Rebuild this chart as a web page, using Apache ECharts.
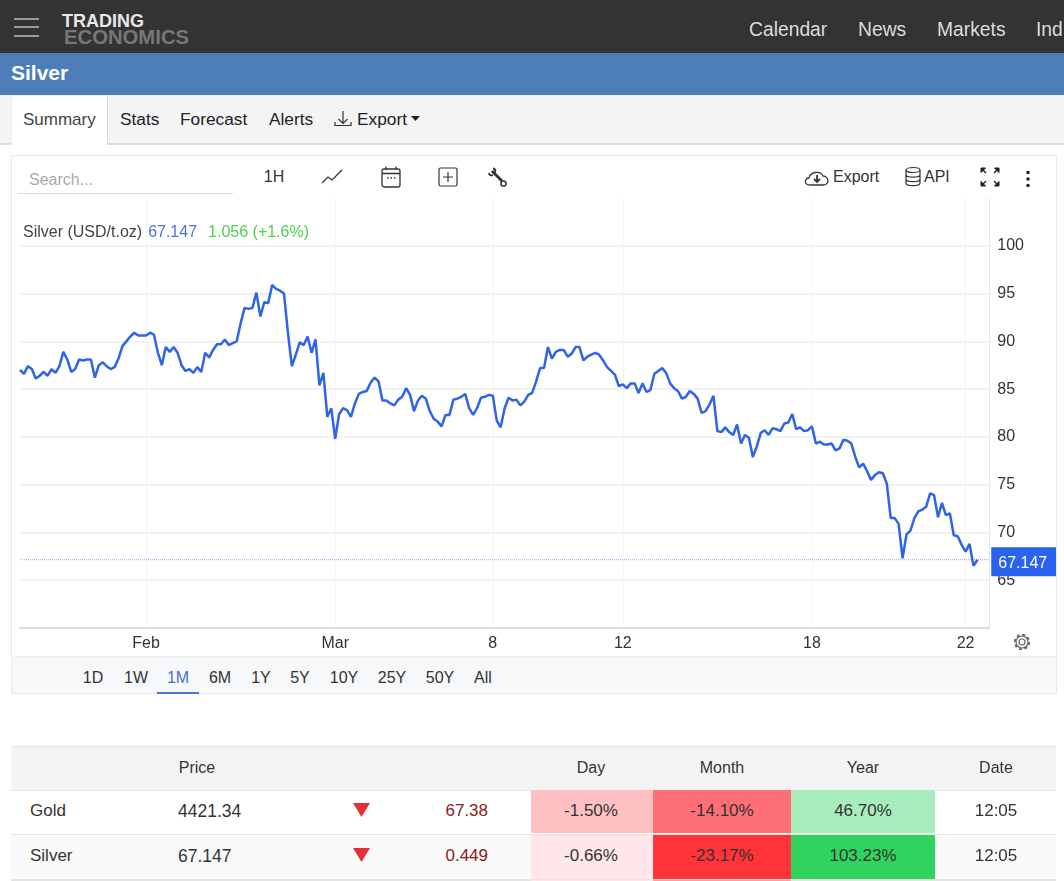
<!DOCTYPE html>
<html lang="en">
<head>
  <meta charset="UTF-8">
  <title>Silver</title>
  <script src="https://cdn.jsdelivr.net/npm/echarts@6/dist/echarts.min.js"></script>
  <style>
    html, body { margin: 0; padding: 0; width: 1064px; height: 881px; overflow: hidden; background: #fff; }
    body { font-family: "Liberation Sans", Arial, sans-serif; color: #333; position: relative; }
    .box { position: absolute; }
    .t { position: absolute; font-size: 16px; line-height: 20px; white-space: nowrap; }
    .c { transform: translateX(-50%); }
    .r { transform: translateX(-100%); }
    svg { position: absolute; }
  </style>
</head>
<body>
<!-- top bar -->
<div class="box" style="left:0;top:0;width:1064px;height:53px;background:#333"></div>
<div class="box" style="left:14px;top:18px;width:25px;height:2px;background:#999"></div>
<div class="box" style="left:14px;top:26px;width:25px;height:2px;background:#999"></div>
<div class="box" style="left:14px;top:35px;width:25px;height:2px;background:#999"></div>
<div class="t" style="left:62px;top:11px;font-size:18px;font-weight:bold;color:#e8e8e8">TRADING</div>
<div class="t" style="left:64px;top:27px;font-size:20.3px;font-weight:bold;color:#777">ECONOMICS</div>
<div class="t" style="left:749px;top:20px;font-size:19.3px;color:#ddd">Calendar</div>
<div class="t" style="left:858px;top:20px;font-size:19.3px;color:#ddd">News</div>
<div class="t" style="left:937px;top:20px;font-size:19.3px;color:#ddd">Markets</div>
<div class="t" style="left:1036px;top:20px;font-size:19.3px;color:#ddd">Ind</div>

<!-- title bar -->
<div class="box" style="left:0;top:53px;width:1064px;height:42px;background:#4d7eb9"></div>
<div class="t" style="left:11px;top:62px;font-size:21px;line-height:22px;font-weight:bold;color:#fff">Silver</div>

<!-- tabs -->
<div class="box" style="left:0;top:95px;width:1064px;height:48px;background:#f4f4f4;border-bottom:2px solid #ddd"></div>
<div class="box" style="left:11px;top:96px;width:95px;height:49px;background:#fff;border-right:1px solid #ddd;border-left:1px solid #eee"></div>
<div class="t" style="left:23px;top:110px;font-size:17px;color:#444">Summary</div>
<div class="t" style="left:120px;top:109px;font-size:17.3px;color:#222">Stats</div>
<div class="t" style="left:180px;top:109px;font-size:17.3px;color:#222">Forecast</div>
<div class="t" style="left:269px;top:109px;font-size:17.3px;color:#222">Alerts</div>
<svg style="left:333px;top:110px" width="20" height="18" fill="none" stroke="#333" stroke-width="1.2"><path d="M10 1v12M5.500 9l4.500 4.500 4.500-4.500M2 12v3.500h16V12"/></svg>
<div class="t" style="left:357px;top:109px;font-size:17.3px;color:#222">Export</div>
<svg style="left:411px;top:116px" width="10" height="6"><path d="M0 0h9L4.500 5z" fill="#222"/></svg>

<!-- chart panel -->
<div class="box" style="left:11px;top:155px;width:1044px;height:537px;border:1px solid #e9e9e9;background:#fff"></div>
<div class="t" style="left:29px;top:170px;color:#aaa">Search...</div>
<div class="box" style="left:18px;top:193px;width:215px;height:1px;background:#ddd"></div>
<div class="t c" style="left:274px;top:167px">1H</div>
<svg style="left:320px;top:167px" width="24" height="20" fill="none" stroke="#333" stroke-width="1.300"><path d="M2 16l6-6 4 3 10-10"/></svg>
<svg style="left:380px;top:165px" width="22" height="24" fill="none" stroke="#333" stroke-width="1.300"><rect x="2" y="4" width="18" height="18" rx="2"/><path d="M2 8.500h18M6 1.500v3M16 1.500v3M7 13h1.500M10.500 13H12M14 13h1.500"/></svg>
<svg style="left:438px;top:167px" width="21" height="21" fill="none" stroke="#333" stroke-width="1.200"><rect x="1" y="1" width="18" height="18" rx="1.500"/><path d="M10 5v10M5 10h10"/></svg>
<svg style="left:487px;top:167px" width="22" height="22" fill="none" stroke="#333"><path d="M5 4l10 10" stroke-width="2.800"/><circle cx="16.500" cy="16.500" r="2.600" stroke-width="1.500"/><path d="M2 6c0 2 2 3 4 2M6 1.500c2 0 3 2 2 4" stroke-width="1.800"/></svg>
<svg style="left:804px;top:167px" width="26" height="21" fill="none" stroke="#333" stroke-width="1.300"><path d="M6 18c-6 0-6-7-1-7 1-6 11-8 14-2 6 0 7 9 0 9z"/><path d="M13 8v6M10 12l3 3 3-3" stroke-width="1.800"/></svg>
<div class="t" style="left:833px;top:167px">Export</div>
<svg style="left:904px;top:166px" width="18" height="22" fill="none" stroke="#333" stroke-width="1.200"><ellipse cx="9" cy="4" rx="7" ry="2.500"/><path d="M2 4v13c0 3.500 14 3.500 14 0V4M2 8.500c0 3.500 14 3.500 14 0M2 13c0 3.500 14 3.500 14 0"/></svg>
<div class="t" style="left:924px;top:167px">API</div>
<svg style="left:979px;top:166px" width="22" height="22" fill="#222" stroke="#222" stroke-width="1"><path d="M2 2h4.500L2 6.500zM20 2h-4.500L20 6.500zM2 20h4.500L2 15.500zM20 20h-4.500L20 15.500z"/><path d="M3 3l4 4M19 3l-4 4M3 19l4-4M19 19l-4-4" stroke-width="1.400"/></svg>
<svg style="left:1024px;top:170px" width="8" height="18" fill="#222"><circle cx="4" cy="2.500" r="1.800"/><circle cx="4" cy="9" r="1.800"/><circle cx="4" cy="15.500" r="1.800"/></svg>

<!-- chart -->
<div id="main" class="box" style="left:12px;top:198px;width:1044px;height:458px"></div>
<svg style="left:1013px;top:633px" width="18" height="18" fill="none" stroke="#666"><circle cx="9" cy="9" r="3" stroke-width="1.200"/><circle cx="9" cy="9" r="6" stroke-width="1.200"/><circle cx="9" cy="9" r="7.200" stroke-width="2" stroke-dasharray="3 2.650"/></svg>

<!-- range bar -->
<div class="box" style="left:12px;top:656px;width:1044px;height:36px;background:#f7f8fa;border-top:1px solid #eee"></div>
<div class="t c" style="left:93px;top:668px">1D</div>
<div class="t c" style="left:136px;top:668px">1W</div>
<div class="t c" style="left:178px;top:668px;color:#3f6fd9">1M</div>
<div class="box" style="left:157px;top:692px;width:42px;height:2px;background:#4d74d6"></div>
<div class="t c" style="left:220px;top:668px">6M</div>
<div class="t c" style="left:261px;top:668px">1Y</div>
<div class="t c" style="left:300px;top:668px">5Y</div>
<div class="t c" style="left:344px;top:668px">10Y</div>
<div class="t c" style="left:392px;top:668px">25Y</div>
<div class="t c" style="left:440px;top:668px">50Y</div>
<div class="t c" style="left:483px;top:668px">All</div>

<!-- table -->
<div class="box" style="left:11px;top:746px;width:1045px;height:43px;background:#f4f4f4;border-top:1px solid #e8e8e8;border-bottom:1px solid #e4e4e4"></div>
<div class="box" style="left:11px;top:834px;width:1045px;height:44px;background:#fafafa;border-top:1px solid #e4e4e4;border-bottom:2px solid #e4e4e4"></div>
<div class="t c" style="left:197px;top:758px">Price</div>
<div class="t c" style="left:591px;top:758px">Day</div>
<div class="t c" style="left:722px;top:758px">Month</div>
<div class="t c" style="left:863px;top:758px">Year</div>
<div class="t c" style="left:996px;top:758px">Date</div>

<div class="box" style="left:531px;top:790px;width:122px;height:43px;background:#ffc0c4"></div>
<div class="box" style="left:653px;top:790px;width:138px;height:43px;background:#ff7076"></div>
<div class="box" style="left:791px;top:790px;width:144px;height:43px;background:#aaedbc"></div>
<div class="t" style="left:30px;top:801px;font-size:17px">Gold</div>
<div class="t" style="left:178px;top:801px;font-size:17.5px">4421.34</div>
<svg style="left:353px;top:803px" width="18" height="14"><path d="M0 0h17L8.500 14z" fill="#e53035"/></svg>
<div class="t r" style="left:488px;top:801px;font-size:17px;color:#8b1a1f">67.38</div>
<div class="t c" style="left:591px;top:801px;font-size:17px">-1.50%</div>
<div class="t c" style="left:722px;top:801px;font-size:17px">-14.10%</div>
<div class="t c" style="left:863px;top:801px;font-size:17px">46.70%</div>
<div class="t c" style="left:996px;top:801px;font-size:17px">12:05</div>

<div class="box" style="left:531px;top:835px;width:122px;height:44px;background:#ffe6e8"></div>
<div class="box" style="left:653px;top:835px;width:138px;height:44px;background:#ff3338"></div>
<div class="box" style="left:791px;top:835px;width:144px;height:44px;background:#2fd35e"></div>
<div class="t" style="left:30px;top:846px;font-size:17px">Silver</div>
<div class="t" style="left:178px;top:846px;font-size:17.5px">67.147</div>
<svg style="left:353px;top:848px" width="18" height="14"><path d="M0 0h17L8.500 14z" fill="#e53035"/></svg>
<div class="t r" style="left:488px;top:846px;font-size:17px;color:#8b1a1f">0.449</div>
<div class="t c" style="left:591px;top:846px;font-size:17px">-0.66%</div>
<div class="t c" style="left:722px;top:846px;font-size:17px">-23.17%</div>
<div class="t c" style="left:863px;top:846px;font-size:17px">103.23%</div>
<div class="t c" style="left:996px;top:846px;font-size:17px">12:05</div>
<div class="box" style="left:531px;top:880px;width:122px;height:1px;background:#ffe6e8"></div>
<div class="box" style="left:653px;top:880px;width:138px;height:1px;background:#ffa0a5"></div>

<script>
  // prices, one point about every 4 pixels
  var prices = [
    87.0,86.6,87.4,87.1,86.1,86.4,86.8,86.4,87.1,86.7,87.4,88.9,88.1,86.8,87.1,88.1,88.0,88.1,88.1,86.2,
    87.5,87.8,87.4,87.1,87.3,88.2,89.5,90.0,90.5,90.9,90.6,90.6,90.6,90.9,90.7,88.8,87.5,89.4,88.9,89.4,
    88.8,87.5,86.9,87.1,86.7,87.3,86.8,88.8,88.3,89.1,89.7,89.7,90.2,89.6,89.8,90.0,91.9,93.5,93.4,93.5,
    95.1,92.6,94.1,94.0,95.9,95.5,95.3,95.0,90.9,87.4,88.6,89.9,89.6,90.5,88.8,90.2,85.4,86.7,82.1,83.0,
    79.8,82.4,83.0,82.8,82.1,83.5,84.5,84.7,84.8,85.7,86.2,85.8,83.8,83.8,83.5,83.3,83.9,84.2,85.1,84.4,
    82.7,83.8,84.3,84.0,82.7,81.9,81.6,81.1,82.3,82.3,83.9,84.0,84.2,84.5,83.0,82.3,83.0,84.1,84.2,84.4,
    84.3,81.7,81.0,83.0,84.1,83.8,83.9,83.3,83.7,84.4,84.6,85.8,87.2,87.2,89.4,88.2,88.9,89.1,89.1,88.4,
    88.7,89.4,89.4,88.0,88.4,88.6,88.8,88.6,88.0,87.3,86.9,86.5,85.3,85.5,85.1,85.6,85.6,84.6,85.6,84.7,
    84.9,86.6,86.9,87.2,86.7,85.6,85.1,84.8,84.0,84.2,84.8,84.5,84.0,82.5,82.7,83.4,84.3,80.6,80.5,81.0,
    80.5,80.2,81.3,79.3,80.2,79.9,77.9,79.0,80.4,80.7,80.2,80.9,80.8,80.6,81.4,81.5,82.4,80.8,81.0,80.6,
    80.7,81.1,79.3,79.5,79.2,79.2,79.3,78.6,78.8,79.7,79.6,79.3,77.9,76.8,77.2,76.4,75.5,76.0,76.3,76.2,
    75.1,71.5,71.5,70.9,67.3,69.8,70.2,71.5,72.2,72.4,72.7,74.1,73.9,71.6,73.1,71.8,72.0,69.7,69.6,68.7,
    68.0,68.8,66.5,67.147
  ];
  var lastPrice = 67.147;
  var tickIndex = [32, 80, 120, 153, 201, 240];
  var tickLabels = ['Feb', 'Mar', '8', '12', '18', '22'];
  var slotCount = 247;   // a few empty slots stay to the right of the last price

  var categories = [];
  var lastPriceLine = [];
  for (var i = 0; i < slotCount; i++) {
    var pos = tickIndex.indexOf(i);
    categories.push(pos >= 0 ? tickLabels[pos] : '');
    lastPriceLine.push(lastPrice);
  }
  function isTick(index) {
    return tickIndex.indexOf(index) >= 0;
  }

  var myChart = echarts.init(document.getElementById('main'));
  var option = {
    animation: false,
    textStyle: { fontFamily: '"Liberation Sans", Arial, sans-serif' },
    title: {
      left: 11, top: 26, padding: 0,
      text: '{a|Silver (USD/t.oz)} {b|67.147}  {c|1.056 (+1.6%)}',
      textStyle: {
        fontWeight: 'normal',
        rich: {
          a: { fontSize: 16, fontWeight: 'normal', color: '#444' },
          b: { fontSize: 16, fontWeight: 'normal', color: '#4a72dd', padding: [0, 0, 0, 1] },
          c: { fontSize: 16, fontWeight: 'normal', color: '#4fd04f', padding: [0, 0, 0, 1] }
        }
      }
    },
    grid: { left: 8, top: 0, width: 969.24, height: 430 },
    xAxis: {
      type: 'category',
      data: categories,
      boundaryGap: false,
      axisTick: { show: false },
      axisLine: { lineStyle: { color: '#dddddd', width: 2 } },
      axisLabel: { interval: function (index) { return isTick(index); }, color: '#333', fontSize: 16, margin: 8 },
      splitLine: { show: true, interval: function (index) { return isTick(index); }, lineStyle: { color: '#f3f4fa', width: 1 } }
    },
    yAxis: {
      type: 'value',
      position: 'right',
      min: 60, max: 105, interval: 5,
      axisTick: { show: false },
      axisLine: { show: true, lineStyle: { color: '#e8e8e8', width: 1 } },
      axisLabel: { color: '#333', fontSize: 16, margin: 8, showMinLabel: false, showMaxLabel: false },
      splitLine: { showMinLine: false, showMaxLine: false, lineStyle: { color: '#eeeeee', width: 1.5 } }
    },
    series: [{
      type: 'line',
      data: lastPriceLine,
      showSymbol: false,
      lineStyle: { color: '#8aaaf8', type: 'dotted', width: 1 },
      endLabel: {
        show: true,
        distance: 2,
        formatter: '{v|' + lastPrice + '}',
        backgroundColor: '#2a63f0',
        padding: [4, 9, 5, 7],
        offset: [0, 2],
        rich: { v: { color: '#fff', fontSize: 16, padding: [4, 0, 0, 0] } }
      }
    }, {
      type: 'line',
      data: prices,
      showSymbol: false,
      lineStyle: { color: '#2f64e6', width: 2.5 }
    }]
  };
  myChart.setOption(option);
</script>
</body>
</html>
